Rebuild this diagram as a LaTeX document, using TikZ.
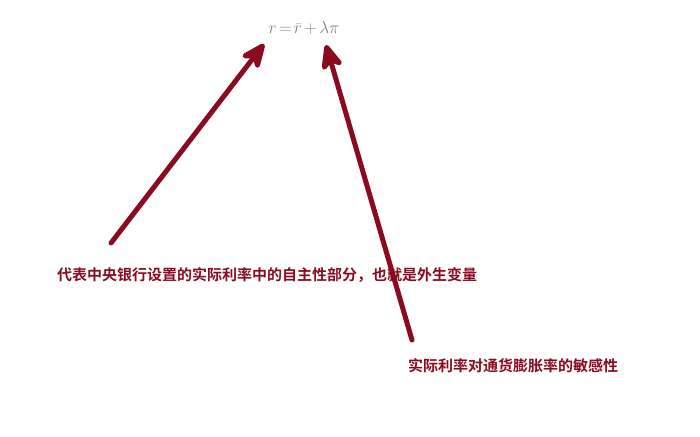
\documentclass[tikz,border=0pt]{standalone}
\usepackage{fontspec}
\newfontfamily\cjkbold{Noto Sans CJK SC Bold}
\usetikzlibrary{arrows.meta}
\definecolor{darkred}{HTML}{8A0B1F}
\definecolor{formulagray}{HTML}{808080}
\tikzset{
  pointer/.style={draw=darkred,line width=5pt,line cap=round,
    -{Stealth[length=32pt,width=27pt,inset=10pt,round]}},
  note/.style={anchor=west,inner sep=0pt,text=darkred,
    font=\cjkbold\fontsize{15}{18}\selectfont}
}
\begin{document}
\begin{tikzpicture}[x=1pt,y=-1pt]
      \useasboundingbox (0,0) rectangle (700,436);
      \node[text=formulagray,font=\fontsize{16}{18}\selectfont] (rule) at (304,28)
        {$\thickmuskip=2.5mu\medmuskip=2.5mu r=\bar{r}+\lambda\pi$};
      \node[note] (auto) at (57,275)
        {代表中央银行设置的实际利率中的自主性部分，也就是外生变量};
      \node[note] (sens) at (408,366)
        {实际利率对通货膨胀率的敏感性};
      \coordinate (autotail) at (111,243);
      \coordinate (autotip) at (264,44);
      \coordinate (senstail) at (412,340);
      \coordinate (senstip) at (326,45);
      \begin{scope}
        \draw[pointer] (autotail) to (autotip);
        \draw[pointer] (senstail) to (senstip);
      \end{scope}
    \end{tikzpicture}
\end{document}
